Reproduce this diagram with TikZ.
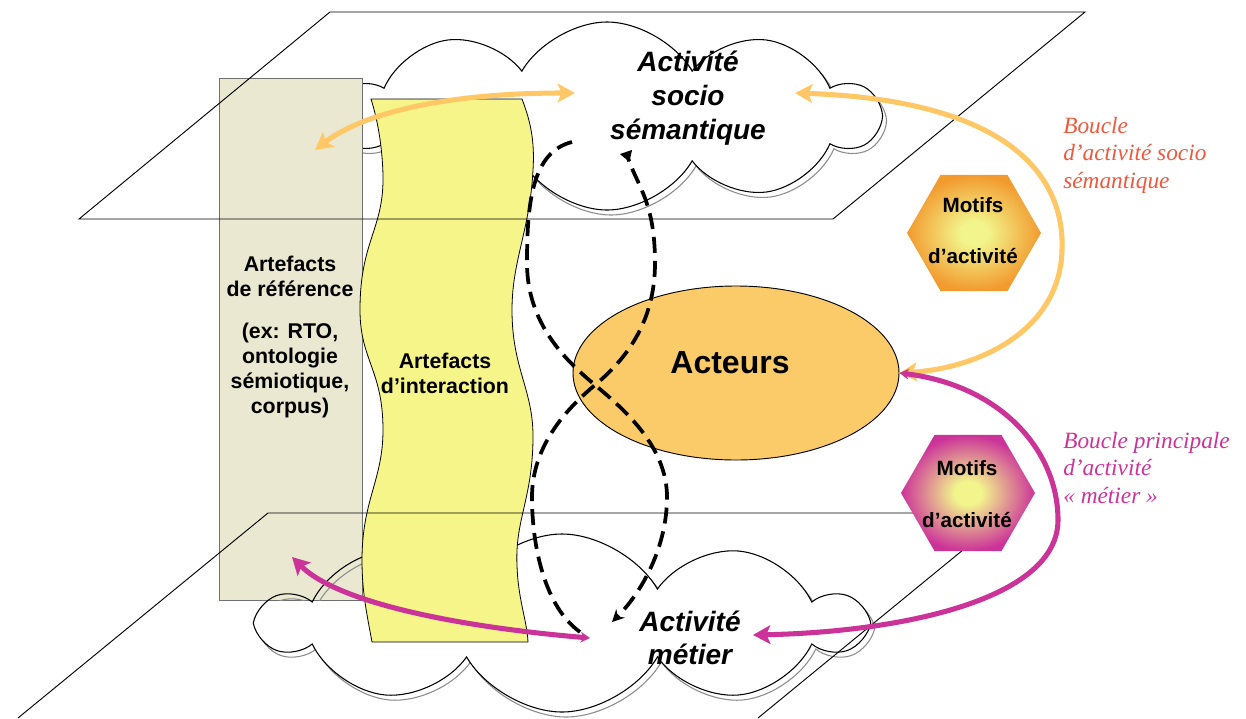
\documentclass[tikz,border=0pt]{standalone}
\usepackage{fontspec}
\setmainfont{Liberation Serif}
\setsansfont{Liberation Sans}
\usetikzlibrary{shapes.geometric,shapes.symbols,arrows.meta}
\definecolor{beigebox}{HTML}{EBE8D1}
\definecolor{beigeline}{HTML}{707070}
\definecolor{yellowband}{HTML}{F5F58A}
\definecolor{acteurfill}{HTML}{FCCB69}
\definecolor{arrowor}{HTML}{FFC766}
\definecolor{magentaar}{HTML}{CC3399}
\definecolor{redlabel}{HTML}{F0573C}
\definecolor{hexor}{HTML}{F29A2E}
\definecolor{hexin}{HTML}{F2F58C}
\pgfdeclareradialshading{hexshadeO}{\pgfpoint{0bp}{0bp}}{color(0bp)=(hexin); color(5bp)=(hexin); color(25bp)=(hexor); color(50bp)=(hexor)}
\pgfdeclareradialshading{hexshadeM}{\pgfpoint{0bp}{0bp}}{color(0bp)=(hexin); color(5bp)=(hexin); color(25bp)=(magentaar); color(50bp)=(magentaar)}
\begin{document}
\begin{tikzpicture}[x=0.75pt,y=-0.75pt,
  cloudbox/.style={cloud, cloud puffs=10, cloud puff arc=120, cloud ignores aspect, draw=black, fill=white, line width=0.8pt, inner sep=0pt},
  cloudshadow/.style={cloudbox, draw=black!45},
  planeline/.style={draw=black, line width=0.7pt},
  sflabel/.style={font=\sffamily\bfseries\fontsize{16}{18.75}\selectfont, align=center},
  hexnode/.style={regular polygon, regular polygon sides=6, minimum size=100.5pt, inner sep=0pt},
  hextext/.style={font=\sffamily\bfseries\fontsize{15.5}{18}\selectfont},
  cloudtext/.style={font=\sffamily\bfseries\itshape\fontsize{21}{25.5}\selectfont, align=center},
  looplabel/.style={font=\itshape\fontsize{17.5}{20.6}\selectfont, align=left, anchor=west, inner sep=0pt},
  orarrow/.style={draw=arrowor, line width=3.8pt, {Stealth[length=13pt,width=14pt,inset=3pt]}-{Stealth[length=13pt,width=14pt,inset=3pt]}},
  magarrow/.style={draw=magentaar, line width=3.8pt},
  loopline/.style={draw=black, line width=2.8pt, dash pattern=on 12pt off 6pt}
]
\useasboundingbox (0,0) rectangle (1246,718);

% clouds
\node[cloudshadow, minimum width=405.75pt, minimum height=141pt] (topshadow) at (611,121) {};
\node[cloudbox, minimum width=405.75pt, minimum height=141pt] (topcloud) at (607,116) {};
\node[cloudshadow, minimum width=450pt, minimum height=133.5pt] (botshadow) at (566,628) {};
\node[cloudbox, minimum width=450pt, minimum height=133.5pt] (botcloud) at (562,623) {};

% reference artefacts box
\node[draw=beigeline, fill=beigebox, line width=0.9pt, anchor=north west, minimum width=107.25pt, minimum height=391.5pt, inner sep=0pt] (ref) at (219,78) {};
\begin{scope}
\clip (219,78) rectangle (362,600);
\node[cloudshadow, fill=none, minimum width=450pt, minimum height=133.5pt] (botshadowB) at (566,628) {};
\node[cloudbox, fill=none, minimum width=450pt, minimum height=133.5pt] (botcloudB) at (562,623) {};
\end{scope}

% interaction artefacts band
\path[draw=black, line width=0.6pt, fill=yellowband]
  (371,99) -- (522,99) .. controls (530,120) and (535,140) .. (533,170)
  .. controls (530,230) and (512,260) .. (512,310)
  .. controls (512,370) and (534,390) .. (533,440)
  .. controls (532,500) and (515,520) .. (517,565)
  .. controls (518,600) and (527,620) .. (528,642)
  -- (372,642) .. controls (366,610) and (362,590) .. (362,560)
  .. controls (362,500) and (383,480) .. (383,430)
  .. controls (383,370) and (360,360) .. (360,310)
  .. controls (360,240) and (384,230) .. (383,175)
  .. controls (382,140) and (376,115) .. (371,99) -- cycle;

% planes
\draw[planeline] (330,12) -- (1085,12) -- (833,219) -- (79,219) -- cycle;
\draw[planeline] (18,718) -- (268,513) -- (1008,513) -- (758,718);

% actors
\node[ellipse, draw=black, line width=0.7pt, fill=acteurfill, minimum width=244.5pt, minimum height=130.5pt, inner sep=0pt] (act) at (736,373) {};
\node[font=\sffamily\bfseries\fontsize{24}{28}\selectfont] (acttext) at (730,363) {Acteurs};

% hexagons
\node[hexnode, shading=hexshadeO] (hexO) at (974,233) {};
\node[hextext] (hexOa) at (973,205) {Motifs};
\node[hextext] (hexOb) at (973,256) {d’activité};
\node[hexnode, shading=hexshadeM] (hexM) at (968,493) {};
\node[hextext] (hexMa) at (967,468) {Motifs};
\node[hextext] (hexMb) at (967,520) {d’activité};

% texts
\node[cloudtext] (socio) at (688,98) {Activité\\socio\\sémantique};
\node[cloudtext, font=\sffamily\bfseries\itshape\fontsize{21}{24.75}\selectfont] (metier) at (690,638) {Activité\\métier};
\node[sflabel] (reftext) at (290,337) {Artefacts\\de référence\\[12.75pt](ex: RTO,\\ontologie\\sémiotique,\\corpus)};
\node[sflabel] (inttext) at (445,373) {Artefacts\\d’interaction};
\node[looplabel, text=redlabel] (lab1) at (1063,155) {Boucle\\d’activité socio\\sémantique};
\node[looplabel, text=magentaar] (lab2) at (1063,468) {Boucle principale\\d’activité\\« métier »};

% anchor coordinates
\coordinate (dA1) at (572,142);
\coordinate (dA2) at (612,622);
\coordinate (dB1) at (580,632);
\coordinate (dB2) at (626,152);
\coordinate (xcross) at (595,385);
\coordinate (upperL) at (527,263);
\coordinate (upperR) at (655,263);
\coordinate (lowerL) at (532,497);
\coordinate (lowerR) at (667,497);
\coordinate (socioW) at (575,93);
\coordinate (socioE) at (795,93);
\coordinate (refTop) at (315,150);
\coordinate (refBot) at (292,557);
\coordinate (metierE) at (753,635);
\coordinate (metierW) at (590,638);
\coordinate (orTurn) at (1062,250);
\coordinate (magTurn) at (1058,520);

% dashed figure-eight
\draw[loopline, -{Stealth[length=9pt,width=9pt]}] (dA1) .. controls +(-40,10) and +(0,-60) .. (upperL)
  .. controls +(0,60) and +(-30,-25) .. (xcross)
  .. controls +(30,25) and +(0,-50) .. (lowerR)
  .. controls +(0,50) and +(30,-30) .. (dA2);
\draw[loopline, -{Triangle[reversed,length=8pt,width=9pt]}] (dB1) .. controls +(-35,-25) and +(0,50) .. (lowerL)
  .. controls +(0,-50) and +(-30,25) .. (xcross)
  .. controls +(30,-25) and +(0,60) .. (upperR)
  .. controls +(0,-60) and +(12,35) .. (dB2);

% orange arrows
\draw[orarrow] (refTop) .. controls (360,115) and (440,93) .. (socioW);
\draw[orarrow] (socioE) .. controls (1000,100) and (1065,170) .. (orTurn)
  .. controls (1060,330) and (980,368) .. (act.east);

% magenta arrows
\draw[magarrow, {Stealth[length=7pt,width=8pt]}-{Stealth[length=13pt,width=14pt,inset=3pt]}] (act.east) .. controls (1000,385) and (1058,450) .. (magTurn)
  .. controls (1058,600) and (900,632) .. (metierE);
\draw[magarrow, {Stealth[length=7pt,width=8pt]}-{Stealth[length=13pt,width=14pt,inset=3pt]}] (metierW) .. controls (470,628) and (340,605) .. (refBot);

\end{tikzpicture}
\end{document}
